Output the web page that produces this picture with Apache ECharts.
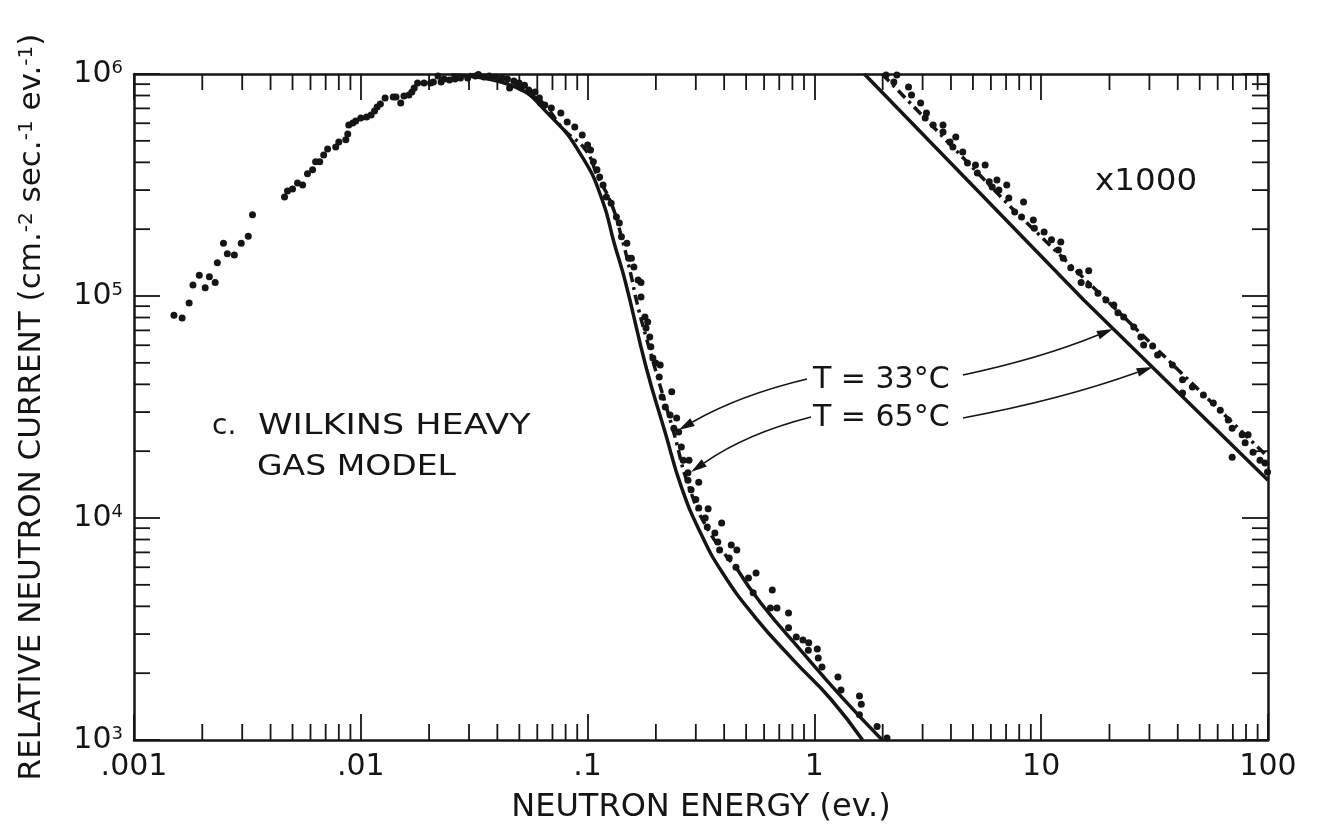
<!DOCTYPE html>
<html>
<head>
<meta charset="utf-8">
<script src="https://cdn.jsdelivr.net/npm/echarts@6/dist/echarts.min.js"></script>
<style>
  html, body { margin: 0; padding: 0; background: #ffffff; }
  #chart { width: 1317px; height: 837px; }
</style>
</head>
<body>
<div id="chart"></div>
<script>
// ---- axis ticks -------------------------------------------------------
const xDecades = [0.001, 0.01, 0.1, 1, 10, 100];
const xTickLabels = ['.001', '.01', '.1', '1', '10', '100'];
const yDecades = [1e3, 1e4, 1e5, 1e6];
const yTickBase = '10';
const minorMultipliers = [2, 3, 4, 5, 6, 7, 8, 9];

// ---- measured thermal spectrum (energy in eV, relative current) -------
const measuredE = [
  0.00150, 0.00163, 0.00175, 0.00182, 0.00194, 0.00206, 0.00215, 0.00228, 0.00233, 0.00248,
  0.00258, 0.00277, 0.00297, 0.00319, 0.00333, 0.00461, 0.00475, 0.00500, 0.00526, 0.00554,
  0.00582, 0.00613, 0.00632, 0.00659, 0.00686, 0.00714, 0.00775, 0.00800, 0.00859, 0.00876,
  0.00885, 0.00922, 0.00950, 0.0100, 0.0106, 0.0111, 0.0115, 0.0118, 0.0122, 0.0128,
  0.0139, 0.0143, 0.0150, 0.0155, 0.0163, 0.0168, 0.0172, 0.0178, 0.0190, 0.0203,
  0.0209, 0.0219, 0.0226, 0.0233, 0.0246, 0.0260, 0.0275, 0.0296, 0.0320, 0.0330,
  0.0349, 0.0368, 0.0393, 0.0420, 0.0443, 0.0453, 0.0473, 0.0499, 0.0510, 0.0527,
  0.0550, 0.0569, 0.0587, 0.0613, 0.0620, 0.0648, 0.0692, 0.0762, 0.0813, 0.0878,
  0.0947, 0.100, 0.103, 0.106, 0.110, 0.113, 0.117, 0.121, 0.127, 0.134,
  0.138, 0.141, 0.149, 0.152, 0.156, 0.160, 0.167, 0.172, 0.172, 0.179,
  0.184, 0.181, 0.188, 0.190, 0.194, 0.1995, 0.209, 0.207, 0.235, 0.213,
  0.220, 0.231, 0.247, 0.240, 0.252, 0.259, 0.280, 0.264, 0.277, 0.277,
  0.309, 0.286, 0.300, 0.309, 0.340, 0.330, 0.337, 0.390, 0.364, 0.375,
  0.382, 0.430, 0.455, 0.421, 0.451, 0.512, 0.553, 0.537, 0.652, 0.640,
  0.684, 0.769, 0.769, 0.832, 0.890, 0.944, 0.940, 1.03, 1.04, 1.08,
  1.27, 1.31, 1.58, 1.61, 1.58, 1.89, 2.09
];
const measuredI = [
  8.2e4, 7.96e4, 9.3e4, 1.12e5, 1.24e5, 1.09e5, 1.22e5, 1.15e5, 1.41e5, 1.73e5,
  1.55e5, 1.53e5, 1.73e5, 1.86e5, 2.32e5, 2.79e5, 2.97e5, 3.03e5, 3.23e5, 3.16e5,
  3.55e5, 3.70e5, 4.02e5, 4.02e5, 4.32e5, 4.59e5, 4.69e5, 4.94e5, 5.05e5, 5.37e5,
  5.89e5, 6.02e5, 6.14e5, 6.34e5, 6.40e5, 6.53e5, 6.81e5, 7.10e5, 7.33e5, 7.80e5,
  7.88e5, 7.88e5, 7.40e5, 7.96e5, 8.04e5, 8.30e5, 8.65e5, 9.1e5, 9.1e5, 9.1e5,
  9.2e5, 9.8e5, 9.2e5, 9.5e5, 9.4e5, 9.5e5, 9.6e5, 9.6e5, 9.8e5, 9.95e5,
  9.7e5, 9.8e5, 9.7e5, 9.6e5, 9.5e5, 8.65e5, 9.3e5, 9.1e5, 8.65e5, 8.9e5,
  8.47e5, 8.21e5, 8.3e5, 7.8e5, 7.4e5, 7.25e5, 7.03e5, 6.67e5, 6.08e5, 5.77e5,
  5.31e5, 4.79e5, 4.55e5, 4.02e5, 3.70e5, 3.44e5, 3.16e5, 2.79e5, 2.62e5, 2.27e5,
  2.13e5, 1.85e5, 1.73e5, 1.48e5, 1.48e5, 1.35e5, 1.18e5, 1.15e5, 9.9e4, 8.04e4,
  7.64e4, 7.18e4, 6.54e4, 5.9e4, 5.26e4, 4.99e4, 4.89e4, 4.32e4, 3.70e4, 3.51e4,
  3.16e4, 2.91e4, 2.82e4, 2.54e4, 2.44e4, 2.09e4, 1.82e4, 1.82e4, 1.60e4, 1.48e4,
  1.45e4, 1.34e4, 1.21e4, 1.11e4, 1.10e4, 1.0e4, 9.1e3, 9.5e3, 8.55e3, 7.8e3,
  7.18e3, 7.55e3, 7.18e3, 6.6e3, 6.0e3, 5.37e3, 5.65e3, 4.6e3, 4.74e3, 3.93e3,
  3.93e3, 3.73e3, 3.2e3, 2.91e3, 2.82e3, 2.74e3, 2.54e3, 2.57e3, 2.34e3, 2.13e3,
  1.92e3, 1.68e3, 1.58e3, 1.45e3, 1.30e3, 1.15e3, 1.02e3
];

// ---- measured epithermal tail, plotted x1000 ---------------------------
const tailMeasuredE = [
  2.07, 2.31, 2.24, 2.60, 2.68, 2.94, 3.12, 3.08, 3.34, 3.69,
  3.69, 3.96, 4.20, 4.08, 4.51, 4.73, 5.13, 5.66, 5.23, 5.90,
  6.38, 6.08, 6.51, 7.05, 7.20, 7.64, 8.36, 8.19, 9.23, 9.33,
  10.3, 11.1, 12.2, 11.9, 12.5, 13.5, 14.7, 16.2, 15.0, 16.2,
  17.8, 19.3, 20.9, 21.8, 23.1, 25.6, 27.5, 28.3, 31.0, 32.6,
  37.9, 42.0, 42.0, 46.4, 51.9, 57.4, 61.6, 66.8, 69.5, 76.9,
  81.7, 79.3, 85.9, 92.2, 97.0, 99.5, 69.5
];
const tailMeasuredI = [
  9.9e5, 9.9e5, 9.2e5, 8.74e5, 8.04e5, 7.40e5, 6.67e5, 6.34e5, 5.89e5, 5.89e5,
  5.48e5, 4.94e5, 5.20e5, 4.69e5, 4.45e5, 3.97e5, 3.89e5, 3.89e5, 3.58e5, 3.27e5,
  3.33e5, 3.10e5, 3.00e5, 3.16e5, 2.76e5, 2.39e5, 2.65e5, 2.27e5, 2.20e5, 2.02e5,
  1.94e5, 1.79e5, 1.75e5, 1.61e5, 1.48e5, 1.34e5, 1.28e5, 1.30e5, 1.15e5, 1.12e5,
  1.03e5, 9.6e4, 9.1e4, 8.4e4, 8.04e4, 7.25e4, 6.54e4, 6.02e4, 5.96e4, 5.42e4,
  4.89e4, 4.19e4, 3.66e4, 3.89e4, 3.58e4, 3.30e4, 3.06e4, 2.76e4, 2.54e4, 2.37e4,
  2.37e4, 2.18e4, 1.98e4, 1.82e4, 1.77e4, 1.61e4, 1.88e4
];

// ---- heavy gas model curves ------------------------------------------
const model33E = [0.025, 0.0457, 0.0692, 0.0947, 0.116, 0.131, 0.147, 0.181, 0.220, 0.259, 0.315, 0.394, 0.547, 0.808, 1.18, 1.63];
const model33I = [9.9e5, 8.9e5, 6.4e5, 4.23e5, 2.71e5, 1.73e5, 1.15e5, 4.79e4, 2.42e4, 1.38e4, 8.55e3, 5.65e3, 3.58e3, 2.29e3, 1.53e3, 1.0e3];
const model65E = [0.030, 0.045, 0.055, 0.0655, 0.0788, 0.098, 0.111, 0.127, 0.141, 0.156, 0.164, 0.181, 0.240, 0.280, 0.347, 0.451, 0.580, 0.890, 1.32, 1.99];
const model65I = [9.95e5, 9.3e5, 8.2e5, 7.1e5, 5.6e5, 4.55e5, 3.44e5, 2.62e5, 1.85e5, 1.22e5, 9.6e4, 6.54e4, 2.42e4, 1.38e4, 8.55e3, 6.0e3, 4.14e3, 2.47e3, 1.56e3, 1.0e3];
const model65Break = 0.451;   // drawn broken above this energy, solid below

const tail33E = [1.66, 15.4, 100];
const tail33I = [1.0e6, 9.6e4, 1.48e4];
const tail65E = [1.99, 7.41, 100];
const tail65I = [1.0e6, 2.49e5, 1.88e4];

// arrow targets on the curves for the temperature labels
const arrowTips33 = [[0.252, 2.49e4], [20.7, 7.1e4]];
const arrowTips65 = [[0.286, 1.61e4], [31.0, 4.79e4]];

// ---- helpers ---------------------------------------------------------
const FONT = 'DejaVu Sans';
const INK = '#151515';
const pairs = (xs, ys) => xs.map((x, i) => [x, ys[i]]);

const minorTicks = [];
xDecades.slice(0, -1).forEach(d => minorMultipliers.forEach(m => {
  minorTicks.push([m * d, yDecades[0], 0]);
  minorTicks.push([m * d, yDecades[yDecades.length - 1], 1]);
}));
yDecades.slice(0, -1).forEach(d => minorMultipliers.forEach(m => {
  minorTicks.push([xDecades[0], m * d, 2]);
  minorTicks.push([xDecades[xDecades.length - 1], m * d, 3]);
}));

const upper65 = pairs(model65E, model65I).filter(p => p[0] <= model65Break);
const lower65 = pairs(model65E, model65I).filter(p => p[0] >= model65Break);

const chart = echarts.init(document.getElementById('chart'), null, { renderer: 'canvas' });

const axisLineStyle = { color: INK, width: 2.5 };
const majorTick = { show: true, inside: true, length: 26, lineStyle: { color: INK, width: 1.8 } };

const yTitle = '{m|RELATIVE NEUTRON CURRENT (cm.}{s|-2}{m| sec.}{s|-1}{m| ev.}{s|-1}{m|)}';

chart.setOption({
  animation: false,
  backgroundColor: '#ffffff',
  grid: { left: 134, right: 49, top: 74, bottom: 97, containLabel: false },
  xAxis: [
    {
      type: 'log', logBase: 10, min: xDecades[0], max: xDecades[xDecades.length - 1],
      splitNumber: 5, position: 'bottom',
      name: 'NEUTRON ENERGY (ev.)', nameLocation: 'middle', nameGap: 52,
      nameTextStyle: { fontFamily: FONT, fontSize: 32, color: INK },
      axisLine: { show: true, lineStyle: axisLineStyle },
      axisTick: majorTick,
      axisLabel: {
        show: true, margin: 12, fontFamily: FONT, fontSize: 30, color: INK,
        showMinLabel: true, showMaxLabel: true,
        formatter: v => xTickLabels[Math.round(Math.log10(v)) + 3]
      },
      splitLine: { show: false }
    },
    {
      type: 'log', logBase: 10, min: xDecades[0], max: xDecades[xDecades.length - 1],
      splitNumber: 5, position: 'top',
      axisLine: { show: true, lineStyle: axisLineStyle },
      axisTick: majorTick,
      axisLabel: { show: false },
      splitLine: { show: false }
    }
  ],
  yAxis: [
    {
      type: 'log', logBase: 10, min: yDecades[0], max: yDecades[yDecades.length - 1],
      splitNumber: 3, position: 'left',
      name: yTitle, nameLocation: 'middle', nameGap: 80, nameRotate: 90,
      nameTextStyle: {
        rich: {
          m: { fontFamily: FONT, fontSize: 31, lineHeight: 31, color: INK, verticalAlign: 'bottom' },
          s: { fontFamily: FONT, fontSize: 20, lineHeight: 20, color: INK, verticalAlign: 'top', padding: [0, 0, 26, 0] }
        }
      },
      axisLine: { show: true, lineStyle: axisLineStyle },
      axisTick: majorTick,
      axisLabel: {
        show: true, margin: 11, showMinLabel: true, showMaxLabel: true,
        formatter: v => '{b|' + yTickBase + '}{s|' + Math.round(Math.log10(v)) + '}',
        rich: {
          b: { fontFamily: FONT, fontSize: 30, lineHeight: 30, color: INK, verticalAlign: 'bottom' },
          s: { fontFamily: FONT, fontSize: 18, lineHeight: 18, color: INK, verticalAlign: 'top' }
        }
      },
      splitLine: { show: false }
    },
    {
      type: 'log', logBase: 10, min: yDecades[0], max: yDecades[yDecades.length - 1],
      splitNumber: 3, position: 'right',
      axisLine: { show: true, lineStyle: axisLineStyle },
      axisTick: majorTick,
      axisLabel: { show: false },
      splitLine: { show: false }
    }
  ],
  series: [
    {
      // minor log ticks on all four sides, pointing into the plot
      type: 'custom', name: 'minor ticks', silent: true, clip: false,
      xAxisIndex: 0, yAxisIndex: 0, encode: { x: 0, y: 1 },
      data: minorTicks,
      renderItem: (params, api) => {
        const p = api.coord([api.value(0), api.value(1)]);
        const L = 16;
        const d = [[0, -L], [0, L], [L, 0], [-L, 0]][api.value(2)];
        return {
          type: 'line',
          shape: { x1: p[0], y1: p[1], x2: p[0] + d[0], y2: p[1] + d[1] },
          style: { stroke: INK, lineWidth: 1.8 }
        };
      }
    },
    {
      type: 'line', name: 'T = 33°C', xAxisIndex: 0, yAxisIndex: 0,
      data: pairs(model33E, model33I), smooth: 0.5, showSymbol: false,
      lineStyle: { color: INK, width: 3.5 }, z: 2
    },
    {
      type: 'line', name: 'T = 65°C', xAxisIndex: 0, yAxisIndex: 0,
      data: upper65, smooth: 0.5, showSymbol: false,
      lineStyle: { color: INK, width: 3.5, type: [10, 5, 3, 5] }, z: 2
    },
    {
      type: 'line', name: 'T = 65°C', xAxisIndex: 0, yAxisIndex: 0,
      data: lower65, smooth: 0.5, showSymbol: false,
      lineStyle: { color: INK, width: 3.5 }, z: 2
    },
    {
      type: 'line', name: 'T = 33°C x1000', xAxisIndex: 0, yAxisIndex: 0,
      data: pairs(tail33E, tail33I), smooth: false, showSymbol: false,
      lineStyle: { color: INK, width: 3.5 }, z: 2
    },
    {
      type: 'line', name: 'T = 65°C x1000', xAxisIndex: 0, yAxisIndex: 0,
      data: pairs(tail65E, tail65I), smooth: false, showSymbol: false,
      lineStyle: { color: INK, width: 3.5, type: [10, 5, 3, 5] }, z: 2
    },
    {
      type: 'scatter', name: 'measured', xAxisIndex: 0, yAxisIndex: 0,
      data: pairs(measuredE, measuredI), symbol: 'circle', symbolSize: 7,
      itemStyle: { color: INK, opacity: 1 }, z: 3
    },
    {
      type: 'scatter', name: 'measured x1000', xAxisIndex: 0, yAxisIndex: 0,
      data: pairs(tailMeasuredE, tailMeasuredI), symbol: 'circle', symbolSize: 7,
      itemStyle: { color: INK, opacity: 1 }, z: 3
    }
  ]
});

// ---- annotations ----------------------------------------------------
const toPx = v => chart.convertToPixel({ xAxisIndex: 0, yAxisIndex: 0 }, v);

// curved leader with a filled arrowhead; bend bows the curve sideways (px)
function arrow(from, tipValue, bend) {
  const to = toPx(tipValue);
  const dx = to[0] - from[0], dy = to[1] - from[1];
  const len = Math.hypot(dx, dy);
  const nx = -dy / len, ny = dx / len;
  const cp = [(from[0] + to[0]) / 2 + nx * bend, (from[1] + to[1]) / 2 + ny * bend];
  const ux = to[0] - cp[0], uy = to[1] - cp[1];
  const ul = Math.hypot(ux, uy);
  const tx = ux / ul, ty = uy / ul;
  const headL = 16, headW = 4.5;
  const base = [to[0] - tx * headL, to[1] - ty * headL];
  return [
    {
      type: 'bezierCurve', silent: true,
      shape: { x1: from[0], y1: from[1], x2: base[0], y2: base[1], cpx1: cp[0], cpy1: cp[1] },
      style: { stroke: INK, lineWidth: 1.6, fill: null }
    },
    {
      type: 'polygon', silent: true,
      shape: { points: [to, [base[0] - ty * headW, base[1] + tx * headW], [base[0] + ty * headW, base[1] - tx * headW]] },
      style: { fill: INK }
    }
  ];
}

function label(text, x, y, size, opts) {
  return Object.assign({
    type: 'text', x: x, y: y, silent: true,
    style: { text: text, fontFamily: FONT, fontSize: size, fill: INK, align: 'left', verticalAlign: 'middle' }
  }, opts || {});
}

const graphics = [
  label('c.', 212, 427, 28),
  label('WILKINS HEAVY', 258, 427, 28, { scaleX: 1.25 }),
  label('GAS MODEL', 257, 468, 28, { scaleX: 1.18 }),
  label('x1000', 1095, 182, 31, { scaleX: 1.05 }),
  label('T = 33°C', 813, 380, 30),
  label('T = 65°C', 813, 418, 30)
]
  .concat(arrow([807, 379], arrowTips33[0], 10))
  .concat(arrow([963, 375], arrowTips33[1], 7))
  .concat(arrow([811, 417], arrowTips65[0], 12))
  .concat(arrow([963, 418], arrowTips65[1], 8));

chart.setOption({ graphic: graphics });
</script>
</body>
</html>
